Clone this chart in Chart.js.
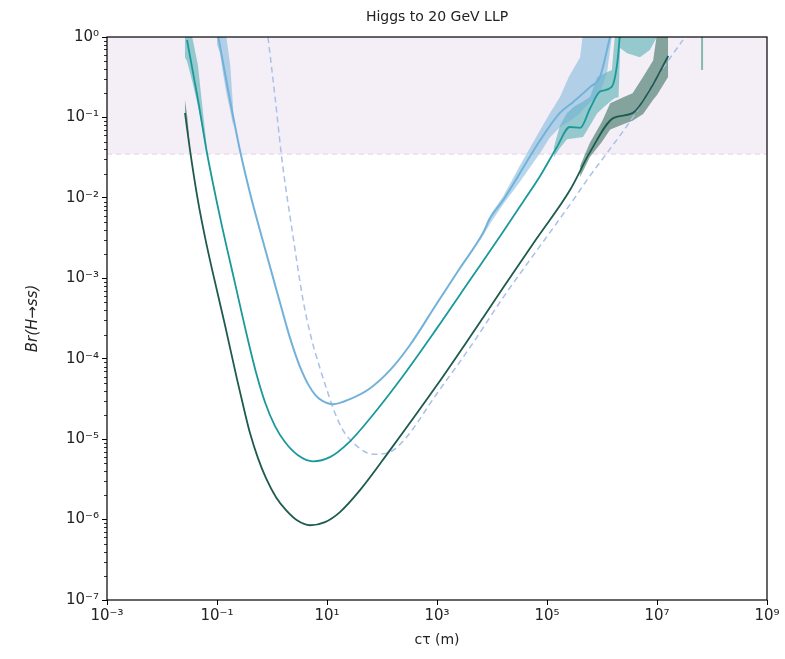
<!DOCTYPE html>
<html>
<head>
<meta charset="utf-8">
<script src="https://cdn.jsdelivr.net/npm/chart.js@4.4.1/dist/chart.umd.min.js"></script>
<style>
  html, body { margin: 0; padding: 0; background: #fff; }
  #wrap { width: 785px; height: 659px; }
</style>
</head>
<body>
<div id="wrap"><canvas id="chart" width="785" height="659"></canvas></div>
<script>
// Higgs -> ss, 20 GeV LLP: Br limits vs c*tau (log-log)

const xTicks = [1e-3, 1e-1, 1e1, 1e3, 1e5, 1e7, 1e9];
const yTicks = [1e-7, 1e-6, 1e-5, 1e-4, 1e-3, 1e-2, 1e-1, 1];
const excludedBr = 0.035;

// dark green curve
const darkX = [0.0262, 0.0323, 0.0452, 0.0605, 0.0811, 0.1396, 0.231, 0.323, 0.398, 0.556, 0.778, 1.183, 1.8, 2.85, 4.91, 9.2, 17.2, 39.8, 140, 1000, 3980, 1.58e4, 6.58e4, 2.62e5, 6.05e5, 1.6e6, 3.6e6, 7.4e6, 1.6e7];
const darkY = [0.1135, 0.0393, 9.1e-3, 3.25e-3, 1.3e-3, 2.62e-4, 5.57e-5, 2.1e-5, 1.19e-5, 5.8e-6, 3.27e-6, 1.9e-6, 1.31e-6, 9.8e-7, 8.5e-7, 9.3e-7, 1.24e-6, 2.32e-6, 7.3e-6, 4.7e-5, 1.86e-4, 7.55e-4, 3.16e-3, 0.0125, 0.037, 0.098, 0.113, 0.22, 0.58];
const darkHeadX = [0.026, 0.029, 0.032];
const darkHeadHi = [0.17, 0.10, 0.045];
const darkHeadLo = [0.11, 0.066, 0.038];
const darkTailX = [4.0e5, 6.0e5, 1.0e6, 1.41e6, 2.5e6, 3.6e6, 5.6e6, 8.5e6, 1.0e7, 1.6e7];
const darkTailHi = [0.025, 0.048, 0.089, 0.15, 0.18, 0.2, 0.32, 0.51, 1.1, 1.1];
const darkTailLo = [0.018, 0.032, 0.05, 0.071, 0.083, 0.091, 0.11, 0.166, 0.19, 0.32];

// teal curve
const tealX = [0.0285, 0.0452, 0.0658, 0.1135, 0.2123, 0.3664, 0.5337, 0.7464, 1.135, 1.722, 2.97, 5.56, 11.3, 26.2, 61, 241, 1000, 3980, 1.58e4, 3.66e4, 7.5e4, 1.52e5, 2.6e5, 4.0e5, 6.1e5, 9.2e5, 1.5e6, 1.9e6, 2.1e6];
const tealY = [0.918, 0.164, 0.0361, 5.77e-3, 8.7e-4, 1.7e-4, 6.08e-5, 2.88e-5, 1.45e-5, 9.2e-6, 6.3e-6, 5.3e-6, 5.97e-6, 9.4e-6, 1.82e-5, 6.1e-5, 2.4e-4, 9.5e-4, 3.76e-3, 8.9e-3, 0.0187, 0.043, 0.076, 0.074, 0.13, 0.21, 0.24, 0.48, 1.0];
const tealHeadX = [0.026, 0.0285, 0.0355, 0.045, 0.056, 0.066];
const tealHeadHi = [1.2, 1.2, 1.0, 0.45, 0.11, 0.04];
const tealHeadLo = [0.56, 0.5, 0.28, 0.14, 0.063, 0.032];
const tealTailX = [1.32e5, 1.72e5, 2.31e5, 3.16e5, 4.52e5, 6.05e5, 8.13e5, 1.12e6, 1.51e6, 1.72e6, 2.0e6, 2.14e6, 2.85e6, 4.9e6, 7.41e6, 1.0e7];
const tealTailHi = [0.0417, 0.0794, 0.1135, 0.138, 0.158, 0.18, 0.316, 0.355, 0.389, 1.1, 1.1, 1.1, 1.1, 1.1, 1.1, 1.1];
const tealTailLo = [0.0316, 0.0417, 0.0537, 0.055, 0.057, 0.0794, 0.112, 0.138, 0.164, 0.174, 0.178, 0.73, 0.63, 0.56, 0.69, 1.0];
const stubX = [6.6e7, 6.6e7];
const stubY = [1.1, 0.39];

// light blue curve
const blueX = [0.1043, 0.1722, 0.262, 0.398, 0.605, 1.042, 1.722, 2.125, 2.73, 3.51, 4.52, 6.05, 8.11, 12.85, 26.2, 61, 140, 323, 1000, 2620, 6860, 9200, 1.6e4, 7.5e4, 1.7e5, 3.0e5, 6.1e5, 9.2e5, 1.4e6];
const blueY = [1.05, 0.1645, 0.0388, 0.01148, 3.92e-3, 1.026e-3, 2.98e-4, 1.815e-4, 1.077e-4, 6.89e-5, 4.83e-5, 3.58e-5, 3.01e-5, 2.72e-5, 3.15e-5, 4.3e-5, 7.2e-5, 1.48e-4, 4.9e-4, 1.34e-3, 3.65e-3, 5.6e-3, 9.4e-3, 0.052, 0.113, 0.156, 0.24, 0.32, 1.0];
const blueHeadX = [0.1, 0.1135, 0.129, 0.148, 0.174, 0.2];
const blueHeadHi = [1.2, 1.2, 1.2, 1.0, 0.45, 0.11];
const blueHeadLo = [0.8, 0.63, 0.35, 0.2, 0.12, 0.075];
const blueTailX = [6.0e3, 1.0e4, 1.6e4, 3.2e4, 7.5e4, 1.12e5, 1.72e5, 2.5e5, 4.0e5, 4.5e5, 6.3e5, 9.1e5, 1.23e6, 1.51e6];
const blueTailHi = [3.2e-3, 6.6e-3, 0.0105, 0.025, 0.07, 0.112, 0.18, 0.32, 0.56, 1.1, 1.1, 1.1, 1.1, 1.1];
const blueTailLo = [2.9e-3, 5.2e-3, 0.0083, 0.0158, 0.036, 0.056, 0.076, 0.089, 0.113, 0.126, 0.158, 0.2, 0.355, 1.0];

// dashed reference curve
const dashX = [0.845, 1.135, 1.52, 2.41, 3.66, 5.12, 7.46, 10, 14, 19.5, 35, 68.5, 123, 241, 1000, 4000, 1.6e4, 6.6e4, 3.0e5, 5.3e5, 1.23e6, 3.66e6, 1.0e7, 2.97e7];
const dashY = [1.0, 0.18, 0.0295, 3.35e-3, 5.4e-4, 1.86e-4, 7.6e-5, 4.06e-5, 2.1e-5, 1.29e-5, 8.2e-6, 6.5e-6, 6.7e-6, 9.4e-6, 3.7e-5, 1.39e-4, 5.8e-4, 2.24e-3, 9.4e-3, 0.0166, 0.036, 0.101, 0.318, 0.92];

const COLORS = {
  dark: "#1e5b4e", darkBand: "rgba(40,100,84,0.55)",
  teal: "#1b999a", tealBand: "rgba(34,155,156,0.45)",
  blue: "#72b2da", blueBand: "rgba(110,176,216,0.5)",
  dash: "#a9c0e8", shade: "#f4eff7", shadeLine: "#e6d0e3",
};

function pts(xs, ys) { return xs.map((x, i) => ({ x, y: ys[i] })); }

function line(xs, ys, color, width, order, extra) {
  return Object.assign({
    data: pts(xs, ys), borderColor: color, borderWidth: width, order,
    pointRadius: 0, fill: false, cubicInterpolationMode: "monotone",
  }, extra || {});
}
function bandHi(xs, ys, color) {
  return { data: pts(xs, ys), borderWidth: 0, borderColor: "transparent", pointRadius: 0,
           fill: "+1", backgroundColor: color, tension: 0, order: 50 };
}
function bandLo(xs, ys) {
  return { data: pts(xs, ys), borderWidth: 0, borderColor: "transparent", pointRadius: 0,
           fill: false, tension: 0, order: 50 };
}

const SUP = { "-": "\u207B", "0": "\u2070", "1": "\u00B9", "2": "\u00B2", "3": "\u00B3",
  "4": "\u2074", "5": "\u2075", "6": "\u2076", "7": "\u2077", "8": "\u2078", "9": "\u2079" };
function powLabel(v) {
  const e = String(Math.round(Math.log10(v)));
  return "10" + e.split("").map(c => SUP[c]).join("");
}

// higher order = drawn earlier (further back)
const datasets = [
  { data: [{ x: 1e-3, y: excludedBr }, { x: 1e9, y: excludedBr }], borderColor: COLORS.shadeLine,
    borderWidth: 1, borderDash: [5, 4], pointRadius: 0, fill: "end", backgroundColor: COLORS.shade, order: 100 },
  bandHi(blueHeadX, blueHeadHi, COLORS.blueBand), bandLo(blueHeadX, blueHeadLo),
  bandHi(blueTailX, blueTailHi, COLORS.blueBand), bandLo(blueTailX, blueTailLo),
  bandHi(tealHeadX, tealHeadHi, COLORS.tealBand), bandLo(tealHeadX, tealHeadLo),
  bandHi(tealTailX, tealTailHi, COLORS.tealBand), bandLo(tealTailX, tealTailLo),
  bandHi(darkHeadX, darkHeadHi, COLORS.darkBand), bandLo(darkHeadX, darkHeadLo),
  bandHi(darkTailX, darkTailHi, COLORS.darkBand), bandLo(darkTailX, darkTailLo),
  line(dashX, dashY, COLORS.dash, 1.5, 10, { borderDash: [6, 4] }),
  line(blueX, blueY, COLORS.blue, 2, 4),
  line(tealX, tealY, COLORS.teal, 1.8, 3),
  line(darkX, darkY, COLORS.dark, 1.8, 2),
  line(stubX, stubY, "#86b8b0", 2, 1, { cubicInterpolationMode: "default" }),
];

// minor log ticks on the y axis + axes frame
const framePlugin = {
  id: "frame",
  afterDraw(chart) {
    const { ctx, chartArea: a, scales } = chart;
    ctx.save();
    ctx.strokeStyle = "#000";
    ctx.lineWidth = 0.8;
    ctx.beginPath();
    for (let d = -7; d < 0; d++) {
      for (let m = 2; m <= 9; m++) {
        const py = Math.round(scales.y.getPixelForValue(m * Math.pow(10, d))) + 0.5;
        ctx.moveTo(a.left - 3, py);
        ctx.lineTo(a.left, py);
      }
    }
    ctx.stroke();
    ctx.lineWidth = 1.2;
    ctx.strokeRect(a.left, a.top, a.right - a.left, a.bottom - a.top);
    ctx.restore();
  },
};

const tickFont = { family: "'DejaVu Sans', sans-serif", size: 15 };

new Chart(document.getElementById("chart"), {
  type: "line",
  data: { datasets },
  plugins: [framePlugin],
  options: {
    responsive: false,
    animation: false,
    devicePixelRatio: 1,
    layout: { padding: { top: 0, right: 18, left: 0, bottom: 0 } },
    plugins: {
      legend: { display: false },
      tooltip: { enabled: false },
      title: {
        display: true, fullSize: false, text: "Higgs to 20 GeV LLP", color: "#222",
        font: { family: "'DejaVu Sans', sans-serif", size: 14, weight: "normal" },
        padding: { top: 9, bottom: 11.2 },
      },
    },
    scales: {
      x: {
        type: "logarithmic", min: 1e-3, max: 1e9,
        afterBuildTicks: s => { s.ticks = xTicks.map(v => ({ value: v })); },
        afterFit: s => { s.height = 59; },
        ticks: { callback: v => powLabel(v), color: "#222", font: tickFont, maxRotation: 0, autoSkip: false, padding: 2 },
        grid: { display: true, drawOnChartArea: false, drawTicks: true, tickLength: 5, color: "#000" },
        border: { display: false },
        title: { display: true, text: "c\u03C4 (m)", color: "#222",
                 font: { family: "'DejaVu Sans', sans-serif", size: 14 }, padding: { top: 0, bottom: 10.6 } },
      },
      y: {
        type: "logarithmic", min: 1e-7, max: 1,
        afterBuildTicks: s => { s.ticks = yTicks.map(v => ({ value: v })); },
        afterFit: s => { s.width = 107; },
        ticks: { callback: v => powLabel(v), color: "#222", font: tickFont, autoSkip: false, padding: 3 },
        grid: { display: true, drawOnChartArea: false, drawTicks: true, tickLength: 5, color: "#000" },
        border: { display: false },
        title: { display: true, text: "Br(H\u2192ss)", color: "#222",
                 font: { family: "'DejaVu Sans', sans-serif", size: 15, style: "italic" },
                 padding: { top: 24, bottom: 0 } },
      },
    },
  },
});
</script>
</body>
</html>
